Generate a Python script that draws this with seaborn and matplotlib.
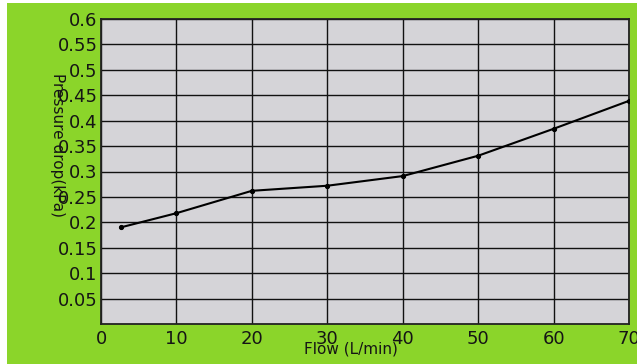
import matplotlib
matplotlib.use("Agg")
import matplotlib.pyplot as plt
import numpy as np
import pandas as pd
import seaborn as sbn
from matplotlib.patches import Rectangle

# values
flow = [2.6, 10, 20, 30, 40, 50, 60, 70]
pressure = [0.190, 0.218, 0.262, 0.272, 0.291, 0.331, 0.384, 0.439]
x_ticks = [0, 10, 20, 30, 40, 50, 60, 70]
y_ticks = [0.05, 0.1, 0.15, 0.2, 0.25, 0.3, 0.35, 0.4, 0.45, 0.5, 0.55, 0.6]
y_tick_labels = ["0.05", "0.1", "0.15", "0.2", "0.25", "0.3", "0.35",
                 "0.4", "0.45", "0.5", "0.55", "0.6"]

GREEN = "#8bd52a"
PANEL = "#d5d4d8"
TEXT = "#151515"

sbn.set_theme(style="white")
plt.rcParams["font.family"] = ["DejaVu Sans"]

fig = plt.figure(figsize=(6.37, 3.64), dpi=100, facecolor="white")
fig.add_artist(Rectangle((7 / 637, 0), 630 / 637, 361 / 364,
                         transform=fig.transFigure, facecolor=GREEN,
                         edgecolor="none", zorder=-1))
ax = fig.add_axes([101 / 637, 1 - 324 / 364, 528 / 637, 305 / 364])
ax.set_facecolor(PANEL)

df = pd.DataFrame({"flow": flow, "pressure": pressure})
sbn.lineplot(data=df, x="flow", y="pressure", ax=ax, color="black",
             linewidth=1.5, marker="o", markersize=3,
             markeredgecolor="black", zorder=3)

ax.set_xlim(0, 70)
ax.set_ylim(0, 0.6)
ax.set_xticks(x_ticks)
ax.set_yticks(y_ticks)
ax.set_yticklabels(y_tick_labels)
ax.grid(True, color="#111111", linewidth=1.0)
ax.set_axisbelow(True)
for s in ax.spines.values():
    s.set_visible(True)
    s.set_color("#222222")
    s.set_linewidth(1.3)

ax.tick_params(axis="both", length=0, labelsize=13, colors=TEXT)
ax.tick_params(axis="y", pad=2.5)
ax.tick_params(axis="x", pad=4.5)

ax.set_xlabel("Flow (L/min)", fontsize=11, color=TEXT)
ax.xaxis.set_label_coords(0.473, -0.058)
ax.set_ylabel("Pressure drop(kPa)", fontsize=11, color=TEXT,
              rotation=-90, va="center", ha="center")
ax.yaxis.set_label_coords(-0.083, 0.587)

fig.savefig("out.png", dpi=100, facecolor=fig.get_facecolor())
